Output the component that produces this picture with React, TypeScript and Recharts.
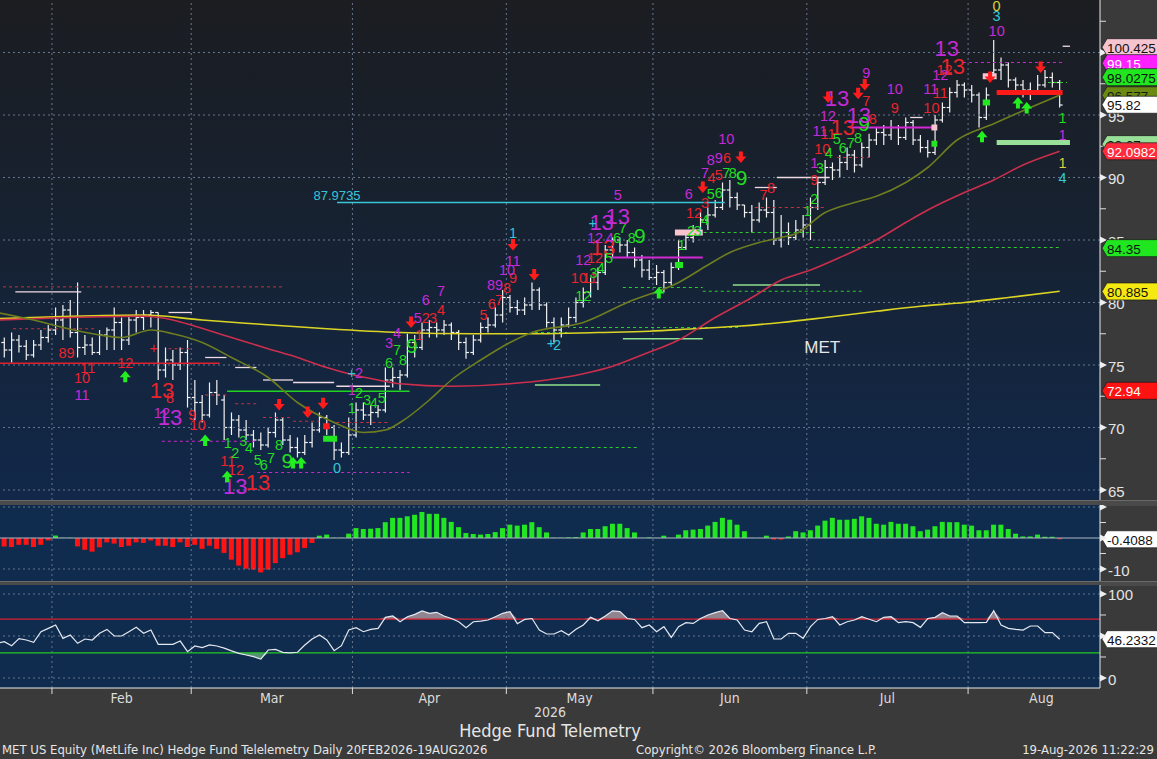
import React from 'react';
import {
  ComposedChart, Bar, Line, Area, Scatter, XAxis, YAxis, ReferenceLine, Cell,
} from 'recharts';

const SANS = '"Liberation Sans", Arial, sans-serif';
const NARROW = '"Liberation Sans Narrow", "DejaVu Sans Condensed", "Roboto Condensed", "Liberation Sans", sans-serif';

// trading-day index: 0 = 21 Jan 2026 ... 145 = 19 Aug 2026
const X_DOMAIN: [number, number] = [0.41, 150.5];
const monthEdges = [7.5, 26.5, 48.5, 69.5, 89.5, 110.5, 132.5];
const monthMid = [17, 37.5, 59, 79.5, 100, 121.5, 142.5];
const monthNames = ['Feb', 'Mar', 'Apr', 'May', 'Jun', 'Jul', 'Aug'];

const opens = [
  76.4, 76.8, 76.2, 77.0, 76.5, 75.8, 76.6, 77.2, 77.8, 78.6,
  79.4, 77.6, 76.4, 76.6, 76.0, 77.4, 77.8, 78.4, 77.0, 78.6,
  78.8, 79.0, 79.2, 74.6, 75.4, 75.0, 76.0, 72.4, 72.0, 71.0,
  72.8, 72.2, 70.0, 70.6, 69.8, 69.4, 69.0, 68.6, 69.6, 70.6,
  69.0, 68.4, 68.0, 68.8, 69.8, 70.8, 70.0, 68.2, 68.0, 69.4,
  71.4, 71.0, 71.2, 71.4, 73.8, 74.0, 74.2, 76.8, 76.4, 77.8,
  78.0, 77.8, 78.2, 77.6, 76.8, 76.0, 77.0, 78.0, 78.2, 79.0,
  80.4, 79.6, 79.4, 79.8, 81.0, 79.8, 78.4, 77.8, 78.2, 78.8,
  80.0, 80.8, 81.6, 82.4, 84.2, 85.0, 84.6, 84.0, 83.4, 82.6,
  82.0, 82.4, 81.6, 82.8, 84.4, 85.2, 85.8, 86.6, 87.0, 87.6,
  89.0, 88.4, 87.8, 87.2, 86.6, 87.4, 87.2, 85.0, 85.6, 85.2,
  85.8, 86.2, 87.6, 89.6, 90.8, 90.6, 91.2, 91.8, 91.0, 92.4,
  93.0, 93.6, 93.4, 94.0, 93.2, 94.4, 93.0, 92.4, 92.0, 94.6,
  95.6, 96.8, 97.4, 97.0, 96.6, 94.8, 98.4, 98.6, 99.0, 97.8,
  97.4, 97.0, 96.8, 97.4, 98.0, 97.6,
];
const highs = [
  77.3, 77.2, 77.6, 77.4, 77.0, 77.0, 77.8, 78.2, 79.6, 79.8,
  80.2, 81.6, 77.4, 77.2, 77.8, 78.0, 79.6, 78.8, 79.0, 79.4,
  79.4, 79.4, 79.2, 76.4, 76.2, 76.4, 77.0, 73.8, 72.6, 73.6,
  73.8, 72.6, 71.2, 71.0, 70.6, 69.8, 69.6, 70.0, 71.2, 70.8,
  69.4, 69.2, 69.4, 70.4, 71.2, 71.0, 70.2, 68.8, 70.8, 72.0,
  72.0, 71.8, 71.8, 74.8, 74.8, 74.6, 77.5, 77.4, 78.4, 78.6,
  78.4, 78.6, 78.4, 77.8, 77.2, 77.4, 78.4, 78.8, 79.6, 81.0,
  80.6, 80.2, 80.4, 81.6, 81.2, 80.0, 78.8, 78.8, 79.6, 80.4,
  81.2, 82.0, 82.8, 84.6, 85.2, 85.2, 85.0, 84.4, 83.8, 83.4,
  83.0, 82.6, 83.2, 85.0, 85.6, 86.2, 87.2, 87.6, 88.2, 89.6,
  89.8, 88.8, 87.8, 87.8, 88.0, 88.4, 88.2, 87.0, 86.4, 86.6,
  87.0, 88.4, 90.0, 91.4, 91.2, 91.8, 92.4, 92.2, 92.8, 93.5,
  94.0, 94.2, 94.6, 94.2, 94.8, 94.6, 93.4, 93.0, 95.0, 96.0,
  97.2, 97.8, 97.6, 97.4, 96.8, 97.2, 101.0, 99.6, 99.2, 98.0,
  97.8, 97.6, 98.2, 98.6, 98.4, 97.8,
];
const lows = [
  75.8, 75.6, 75.2, 76.0, 75.4, 75.6, 76.2, 76.8, 77.4, 77.0,
  77.2, 75.6, 75.8, 75.8, 75.8, 76.2, 76.2, 76.2, 76.6, 77.6,
  77.8, 78.0, 73.8, 74.0, 73.8, 74.6, 71.6, 70.6, 70.4, 70.8,
  71.8, 69.0, 69.4, 69.2, 69.0, 68.4, 68.2, 68.4, 69.2, 68.6,
  68.0, 67.6, 67.8, 68.4, 69.6, 69.4, 67.4, 67.6, 67.8, 69.2,
  70.6, 70.2, 70.8, 71.2, 73.2, 73.0, 74.0, 75.6, 76.2, 77.2,
  77.2, 77.4, 77.0, 76.2, 75.5, 75.8, 76.8, 77.6, 78.0, 78.4,
  79.2, 79.0, 79.0, 79.4, 79.4, 78.0, 76.8, 77.2, 78.0, 78.4,
  79.6, 80.4, 81.0, 82.2, 83.6, 84.0, 83.6, 82.8, 82.0, 81.8,
  81.4, 80.8, 81.4, 82.6, 84.2, 84.8, 85.6, 85.8, 86.8, 87.4,
  87.6, 87.4, 86.8, 85.6, 86.4, 86.8, 84.6, 84.4, 84.6, 85.0,
  85.2, 85.0, 87.4, 89.4, 89.8, 90.0, 90.6, 90.4, 90.8, 91.6,
  92.6, 92.6, 93.0, 92.6, 93.0, 92.6, 92.0, 91.6, 91.8, 94.4,
  95.2, 96.4, 96.4, 96.0, 94.0, 94.6, 98.0, 97.8, 97.2, 96.8,
  96.4, 96.2, 96.6, 97.2, 97.2, 95.6,
];
const closes = [
  76.8, 76.2, 77.0, 76.5, 75.8, 76.6, 77.2, 77.8, 78.6, 79.4,
  77.6, 76.4, 76.6, 76.0, 77.4, 77.8, 78.4, 77.0, 78.6, 78.8,
  79.0, 79.2, 74.6, 75.4, 75.0, 76.0, 72.4, 72.0, 71.0, 72.8,
  72.6, 70.0, 70.6, 69.8, 69.4, 69.0, 68.6, 69.6, 70.6, 69.0,
  68.4, 68.0, 68.8, 69.8, 70.8, 70.0, 68.2, 68.0, 69.4, 71.4,
  71.0, 71.2, 71.4, 73.8, 74.0, 74.2, 76.8, 76.4, 77.8, 78.0,
  77.8, 78.2, 77.6, 76.8, 76.0, 77.0, 78.0, 78.2, 79.0, 80.4,
  79.6, 79.4, 79.8, 81.0, 79.8, 78.4, 77.8, 78.2, 78.8, 80.0,
  80.8, 81.6, 82.4, 84.2, 85.0, 84.6, 84.0, 83.4, 82.6, 82.0,
  82.4, 81.6, 82.8, 84.4, 85.2, 85.8, 86.6, 87.0, 87.6, 89.0,
  88.4, 87.8, 87.2, 86.6, 87.4, 87.2, 85.0, 85.6, 85.2, 85.8,
  86.2, 87.6, 89.6, 90.8, 90.6, 91.2, 91.8, 91.0, 92.4, 93.0,
  93.6, 93.4, 94.0, 93.2, 94.4, 93.0, 92.4, 92.0, 94.6, 95.6,
  96.8, 97.4, 97.0, 96.6, 94.8, 96.6, 98.6, 99.0, 97.8, 97.4,
  97.0, 96.8, 97.4, 98.0, 97.6, 95.8,
];

// moving averages, read at sample points [index, value]
const ma20 = [[0, 79.2], [5, 78.6], [9, 78.0], [14, 77.4], [17, 77.2], [21, 77.8], [24, 77.5], [28, 76.8], [32, 75.6], [37, 74.0], [41, 72.0], [46, 70.4], [50, 69.6], [53, 69.8], [55, 70.4], [59, 72.2], [62, 73.8], [66, 75.4], [70, 76.8], [73, 77.6], [80, 78.4], [86, 80.0], [93, 81.6], [97, 83.0], [100, 84.0], [104, 84.8], [107, 85.2], [109, 85.5], [113, 87.2], [117, 88.0], [120, 88.5], [124, 89.6], [127, 90.8], [131, 93.0], [136, 94.3], [141, 95.6], [145, 96.6]];
const ma50 = [[0, 78.6], [10, 78.8], [20, 78.9], [24, 78.6], [27, 78.1], [32, 77.2], [37, 76.3], [41, 75.6], [45, 74.8], [48, 74.3], [52, 73.8], [55, 73.5], [62, 73.3], [70, 73.5], [75, 73.8], [80, 74.3], [84, 74.9], [88, 75.8], [93, 77.0], [98, 78.8], [103, 80.4], [107, 81.8], [111, 82.6], [115, 83.6], [120, 85.0], [124, 86.4], [127, 87.4], [132, 88.8], [136, 89.8], [140, 91.0], [145, 92.1]];
const ma200 = [[0, 78.7], [10, 78.9], [20, 79.0], [28, 78.6], [35, 78.3], [45, 77.9], [55, 77.6], [65, 77.5], [74, 77.5], [82, 77.6], [89, 77.7], [95, 77.9], [101, 78.1], [107, 78.4], [113, 78.8], [120, 79.3], [126, 79.7], [132, 80.0], [138, 80.4], [145, 80.9]];

// histogram pane
const hist = [
  -4.1, -2.7, -2.9, -2.2, -2.2, -2.9, -2.2, -0.8, 0.8, 0.1,
  0.1, -2.7, -3.8, -4.4, -3.0, -1.4, -1.8, -2.9, -2.5, -1.4,
  -1.6, -0.8, -2.5, -2.5, -2.9, -1.4, -2.9, -2.2, -3.5, -2.5,
  -3.5, -4.8, -7.0, -8.9, -9.9, -10.2, -11.1, -10.2, -8.1, -6.5,
  -5.4, -4.6, -3.2, -1.6, 0.75, 1.1, 0.1, 0.1, 1.4, 3.2,
  2.9, 3.0, 3.2, 5.1, 6.5, 6.5, 7.0, 7.5, 8.4, 7.8,
  7.8, 6.5, 5.2, 3.5, 1.6, 1.3, 1.1, 1.3, 1.9, 3.2,
  4.3, 4.0, 4.3, 5.1, 3.5, 1.8, 0.1, 0.1, 0.2, 0.3,
  1.8, 2.9, 2.9, 3.8, 4.6, 4.6, 3.2, 1.8, 0.05, 0.2,
  0.05, 0.75, 0.05, 1.1, 2.5, 2.7, 2.9, 4.0, 5.2, 6.5,
  5.9, 4.3, 2.2, 0.05, 0.05, 0.75, -0.5, -0.5, 0.5, 2.2,
  1.8, 2.5, 4.0, 5.6, 6.5, 5.9, 5.9, 6.2, 7.0, 6.5,
  4.6, 4.3, 5.2, 4.6, 4.6, 3.8, 2.2, 2.7, 3.8, 5.2,
  5.1, 5.1, 4.3, 4.0, 2.5, 2.5, 4.3, 4.3, 2.9, 1.4,
  0.5, 0.5, 1.1, 0.4, 0.4, -0.4,
];

// oscillator pane
const rsi = [
  41.3, 43.2, 38.5, 46.8, 45.2, 42.5, 55.1, 59.1, 63.1, 47.2,
  51.2, 41.3, 46.4, 45.2, 53.2, 57.9, 50.0, 50.0, 55.1, 60.3,
  53.2, 57.1, 40.1, 40.1, 40.1, 44.0, 31.3, 38.1, 36.1, 39.3,
  38.1, 35.5, 32.3, 29.4, 27.4, 25.4, 22.6, 33.3, 34.1, 30.6,
  29.8, 30.6, 39.3, 46.4, 51.2, 45.2, 32.5, 38.5, 57.1, 59.9,
  55.1, 57.9, 59.1, 72.2, 73.8, 67.0, 73.0, 75.8, 79.8, 77.0,
  78.2, 73.8, 70.8, 67.0, 59.9, 67.0, 67.8, 69.0, 73.0, 77.0,
  79.0, 64.7, 69.7, 70.8, 57.1, 52.4, 52.4, 56.3, 51.2, 57.9,
  63.1, 72.2, 68.0, 73.8, 80.0, 79.0, 70.8, 69.7, 59.9, 63.1,
  55.1, 61.1, 48.4, 61.1, 65.9, 65.0, 70.8, 75.0, 77.8, 80.0,
  70.8, 69.0, 57.1, 55.1, 65.0, 67.0, 46.4, 46.4, 53.2, 53.2,
  47.2, 61.1, 69.7, 70.8, 73.0, 63.1, 67.0, 69.0, 73.0, 70.0,
  67.0, 72.2, 73.0, 65.9, 67.0, 65.9, 60.3, 70.8, 72.2, 77.8,
  73.8, 73.8, 65.9, 65.9, 65.9, 66.3, 80.0, 63.1, 59.1, 57.9,
  57.1, 61.9, 61.9, 54.0, 54.0, 46.2,
];

// sequential counts [index, price, text]
const redCounts = [[9.5, 76.0, '89'], [12.4, 74.8, '11'], [11.6, 74.0, '10'], [17.5, 75.2, '12'], [23.6, 72.4, '8'], [26.6, 71.0, '9'], [27.4, 70.2, '10'], [31.5, 67.3, '11'], [32.6, 66.6, '12'], [21.4, 76.4, '+'], [57.6, 77.4, '1'], [58.5, 78.8, '2'], [59.5, 78.8, '3'], [60.6, 79.4, '4'], [66.4, 79.0, '5'], [67.5, 79.9, '6'], [68.5, 80.2, '7'], [69.6, 81.2, '8'], [70.4, 82.0, '9'], [79.4, 82.0, '10'], [80.9, 82.0, '11'], [81.6, 83.6, '12'], [95.1, 87.2, '12'], [96.6, 88.0, '3'], [97.5, 90.0, '4'], [98.5, 90.2, '5'], [99.6, 91.6, '6'], [104.6, 88.6, '7'], [105.6, 89.2, '8'], [111.5, 89.8, '9'], [112.6, 92.3, '10'], [113.4, 93.5, '11'], [119.5, 94.7, '8'], [118.6, 96.1, '7'], [122.5, 95.6, '9'], [127.5, 95.6, '10'], [128.7, 96.8, '11'], [129.3, 98.6, '12']];
const redThirteens = [[22.5, 73.0, '13'], [35.6, 65.6, '13'], [82.7, 84.4, '13'], [115.4, 94.0, '13'], [130.4, 98.9, '13']];
const greenCounts = [[31.5, 68.8, '1'], [32.5, 68.0, '2'], [33.6, 68.9, '3'], [34.4, 68.4, '4'], [35.6, 67.4, '5'], [36.4, 67.0, '6'], [37.4, 67.6, '7'], [38.5, 68.6, '8'], [48.4, 71.6, '1'], [49.4, 72.8, '2'], [50.5, 72.2, '3'], [51.4, 72.0, '4'], [52.5, 72.4, '5'], [53.5, 75.2, '6'], [54.6, 76.2, '7'], [55.4, 75.4, '8'], [80.0, 80.5, '12'], [81.4, 82.4, '3'], [82.4, 82.8, '4'], [83.5, 83.6, '5'], [84.6, 85.2, '6'], [85.4, 86.0, '7'], [86.6, 85.2, '8'], [93.4, 84.6, '1'], [94.7, 85.7, '2'], [95.6, 85.7, '3'], [96.6, 86.6, '4'], [97.4, 88.7, '5'], [98.5, 88.8, '6'], [99.5, 90.4, '7'], [100.4, 90.4, '8'], [110.6, 87.3, '1'], [111.5, 88.3, '2'], [112.3, 90.8, '3'], [113.5, 92.0, '4'], [114.6, 93.1, '5'], [115.4, 92.4, '6'], [116.5, 92.8, '7'], [117.5, 93.2, '8'], [145.4, 94.8, '1']];
const greenNines = [[39.6, 67.4, '9'], [56.6, 76.6, '9'], [87.7, 85.4, '9'], [101.6, 90.0, '9'], [118.3, 94.3, '9']];
const purpleCounts = [[11.6, 72.6, '11'], [22.5, 71.2, '12'], [48.4, 73.0, '1'], [49.4, 74.4, '2'], [53.5, 76.8, '3'], [54.6, 77.6, '4'], [57.4, 78.8, '5'], [58.5, 80.2, '6'], [60.6, 80.9, '7'], [67.4, 81.4, '8'], [68.5, 81.4, '9'], [69.6, 82.6, '10'], [70.4, 83.3, '11'], [80.0, 83.4, '12'], [81.6, 85.2, '12'], [83.6, 85.2, '4'], [84.7, 88.6, '5'], [94.4, 88.7, '6'], [96.6, 90.4, '7'], [97.4, 91.4, '8'], [98.5, 91.6, '9'], [99.5, 93.1, '10'], [111.5, 91.2, '1'], [112.3, 93.7, '11'], [113.4, 94.9, '12'], [118.6, 98.4, '9'], [122.5, 97.1, '10'], [127.4, 97.1, '11'], [128.7, 98.2, '12'], [136.4, 101.7, '10'], [145.4, 93.4, '1']];
const purpleThirteens = [[23.6, 70.8, '13'], [32.5, 65.3, '13'], [82.5, 86.4, '13'], [84.7, 86.9, '13'], [114.6, 96.3, '13'], [117.6, 95.0, '13'], [129.6, 100.3, '13']];
const cyanCounts = [[46.4, 66.8, '0'], [48.4, 74.4, '+'], [70.4, 85.6, '1'], [75.6, 76.8, '+'], [76.4, 76.6, '2'], [81.3, 86.4, '+'], [136.4, 102.9, '3'], [145.4, 90.0, '4']];
const yellowCounts = [[136.4, 103.7, '0'], [145.4, 91.2, '1']];
const levelText = [[46.4, 88.6, '87.9735']];
const tickerText = [[112.6, 76.4, 'MET']];

const sellArrows = [[38.5, 71.8], [42.4, 71.2], [44.5, 71.9], [56.5, 78.4], [70.4, 84.6], [73.3, 82.2], [96.3, 89.2], [101.5, 91.6], [113.4, 96.4], [117.5, 96.7], [118.4, 97.4], [135.5, 98.0], [142.4, 98.8]];
const buyArrows = [[17.5, 74.1], [28.4, 69.0], [31.4, 66.1], [40.4, 67.2], [41.5, 67.2], [90.3, 80.8], [134.4, 93.3], [139.3, 96.0], [140.5, 95.6]];

// level lines [fromIndex, toIndex, price]
const redDotted = [[0, 39.3, 81.25], [2.2, 13.6, 77.9], [23.4, 26.6, 76.3], [28.4, 31.3, 72.6], [32.5, 35.4, 71.9], [36.3, 40.4, 70.8], [40.4, 44, 70.5], [46.3, 53.4, 70.4], [103.4, 113, 87.6], [114.6, 119.5, 91.6]];
const redSolid = [[0, 30.4, 75.15]];
const paleSolid = [[2.5, 11.5, 80.85], [23.4, 26.6, 79.2], [28.4, 31.3, 75.6], [32.5, 35.4, 74.8], [36.3, 40.4, 73.8], [40.4, 46, 73.6], [46.3, 53.6, 73.3], [103.4, 106.4, 89.2], [106.4, 113.6, 90.0], [124.6, 126.3, 94.8], [145.4, 146.4, 100.5]];
const greenSolid = [[31.4, 56.3, 72.9]];
const purpleDotted = [[22.5, 35.4, 68.9], [35.5, 56.3, 66.4], [131.8, 145.5, 99.2]];
const greenDotted = [[48.4, 87.3, 68.4], [85.4, 96.3, 81.2], [96.3, 118, 80.9], [78.6, 101.4, 78.0], [73.4, 77.8, 77.6], [95.6, 111.9, 85.6], [110.9, 145, 84.4], [143.4, 146, 97.6]];
const lightGreenSolid = [[73.4, 82.3, 73.4], [85.4, 96.3, 77.1], [100.4, 112.3, 81.4]];
const cyanSolid = [[46.4, 99.3, 88.0]];
const purpleSolid = [[83.6, 96.3, 83.6], [116.4, 127.7, 94.0]];
const redThick = [[136.4, 145.4, 96.8]];
const lightGreenThick = [[136.4, 146.4, 92.8]];
const pinkBlocks = [[92.5, 96.3, 85.6], [134.5, 136.4, 98.1], [127.5, 128.3, 94.0]];
const greenBlocks = [[127.5, 128.3, 92.7], [134.5, 135.5, 96.0], [92.5, 93.6, 83.0], [44.5, 46.4, 69.1]];
const redBlocks = [[44.5, 45.4, 70.1]];

// right-axis value tags
const priceTags = [100.425, 99.15, 98.0275, 96.577, 95.82, 92.67, 92.0982, 84.35, 80.885, 72.94];
const priceTagColors = [
  ['#f6c4cf', '#111'], ['#ff20ff', '#fff'], ['#1fe61f', '#111'], ['#6a8a12', '#1a1a1a'], ['#ffffff', '#111'],
  ['#98e098', '#111'], ['#ff2b3d', '#fff'], ['#1fe61f', '#111'], ['#f4ea12', '#111'], ['#ff1212', '#fff'],
];
const histTag = -0.4088;
const rsiTag = 46.2332;

const priceTicks = [65, 67.5, 70, 72.5, 75, 77.5, 80, 82.5, 85, 87.5, 90, 92.5, 95, 97.5, 100, 102.5];
const priceGrid = [65, 70, 75, 80, 85, 90, 95, 100];

const bars = closes.map((c, i) => ({ i, o: opens[i], h: highs[i], l: lows[i], c, range: [lows[i], highs[i]] }));
const histRows = hist.map((v, i) => ({ i, v }));
const rsiRows = rsi.map((v, i) => ({ i, v, ob: Math.max(v, 70), os: Math.min(v, 30) }));
const toLine = (pts: number[][]) => pts.map(([i, v]) => ({ i, v }));
const toMarks = (rows: any[][]) => rows.map(([i, p, t]) => ({ i, p, t }));

const GRID = '#66768e';

const OhlcShape = (props: any) => {
  const { x, y, width, height, payload } = props;
  if (height == null) return null;
  const cx = x + width / 2;
  const span = payload.h - payload.l || 1;
  const yo = y + ((payload.h - payload.o) / span) * height;
  const yc = y + ((payload.h - payload.c) / span) * height;
  return (
    <g stroke="#f2f2f2" strokeWidth={1.2}>
      <line x1={cx} x2={cx} y1={y} y2={y + height} />
      <line x1={cx - 3} x2={cx} y1={yo} y2={yo} />
      <line x1={cx} x2={cx + 3} y1={yc} y2={yc} />
    </g>
  );
};

const textShape = (fill: string, size: number, anchor = 'middle') => (props: any) => (
  <text x={props.cx} y={props.cy} fill={fill} fontSize={size} fontFamily={SANS}
    textAnchor={anchor} dominantBaseline="central">{props.payload.t}</text>
);

const DownArrow = (props: any) => {
  const { cx, cy } = props;
  return <path d={`M${cx - 2},${cy - 6}h4v5h3.5l-5.5,6.5l-5.5,-6.5h3.5z`} fill="#ff1c1c" />;
};
const UpArrow = (props: any) => {
  const { cx, cy } = props;
  return <path d={`M${cx - 2},${cy + 6}h4v-5h3.5l-5.5,-6.5l-5.5,6.5h3.5z`} fill="#22ee22" />;
};

const Tag = ({ viewBox, text, bg, fg }: any) => {
  if (!viewBox) return null;
  const x = viewBox.x + viewBox.width + 2;
  const y = viewBox.y;
  return (
    <g>
      <path d={`M${x},${y} L${x + 5},${y - 8.5} H${x + 60} V${y + 8.5} H${x + 5} Z`} fill={bg} stroke="#1a1a1a" strokeWidth={0.7} />
      <text x={x + 5} y={y + 1} fontSize={13.5} fill={fg} fontFamily={SANS} dominantBaseline="central">{text}</text>
    </g>
  );
};

const makeTick = (majors: number[], labelled: number[]) => (props: any) => {
  const { x, y, payload } = props;
  const ax = x - 8;
  const v = payload.value;
  if (majors.includes(v)) {
    return (
      <g>
        <path d={`M${ax},${y - 3.5} L${ax + 7},${y} L${ax},${y + 3.5} Z`} fill="#eeeeee" />
        {labelled.includes(v) && (
          <text x={ax + 8} y={y + 1} fill="#e4e4e4" fontSize={15} fontFamily={SANS} dominantBaseline="central">{v}</text>
        )}
      </g>
    );
  }
  return <line x1={ax} x2={ax + 6} y1={y} y2={y} stroke="#dddddd" />;
};

const segments = (rows: number[][], stroke: string, width: number, dash?: string) =>
  rows.map(([a, b, p], k) => (
    <ReferenceLine key={`${stroke}-${width}-${k}`} segment={[{ x: a, y: p }, { x: b, y: p }]}
      stroke={stroke} strokeWidth={width} strokeDasharray={dash} ifOverflow="hidden" />
  ));

const vGrid = () => monthEdges.map((e) => (
  <ReferenceLine key={`vg-${e}`} x={e} stroke={GRID} strokeDasharray="2 3" ifOverflow="hidden" />
));

const MonthTick = (props: any) => {
  const { x, y, payload } = props;
  const k = monthMid.indexOf(payload.value);
  if (k >= 0) {
    return <text x={x} y={y + 10} fill="#dcdcdc" fontSize={14} fontFamily={NARROW} textAnchor="middle" dominantBaseline="central">{monthNames[k]}</text>;
  }
  return <line x1={x} x2={x} y1={y} y2={y + 6} stroke="#dddddd" />;
};

const W = 1157;
const AXIS_W = 57;
const SMALL = 14.5;
const BIG = 22;

export default function App() {
  const abs = (top: number, height: number, extra: any = {}) => ({ position: 'absolute' as const, left: 0, top, height, ...extra });
  return (
    <div style={{ position: 'absolute', left: 0, top: 0, width: W, height: 759, background: '#3a3a3a', overflow: 'hidden', fontFamily: SANS }}>
      <div style={abs(0, 500, { width: 1100, background: 'linear-gradient(180deg, #1b1d21 0%, #17212f 40%, #11284a 100%)' })} />
      <div style={abs(500, 5, { width: W, background: '#4a4a4a', borderTop: '1px solid #6a6a6a' })} />
      <div style={abs(505, 76, { width: 1100, background: '#0f2c4e' })} />
      <div style={abs(581, 4, { width: W, background: '#4a4a4a', borderTop: '1px solid #6a6a6a' })} />
      <div style={abs(585, 103, { width: 1100, background: '#0f2c4e' })} />

      {/* price pane */}
      <div style={abs(0, 500)}>
        <ComposedChart width={W} height={500} data={bars} margin={{ top: 0, right: 0, bottom: 0, left: 0 }}>
          <XAxis dataKey="i" type="number" domain={X_DOMAIN} allowDataOverflow hide />
          <YAxis orientation="right" width={AXIS_W} type="number" domain={[64.2, 104.2]} allowDataOverflow
            ticks={priceTicks} interval={0} tickSize={6} tickMargin={2} tickLine={false}
            axisLine={{ stroke: '#e8e8e8' }} tick={makeTick(priceGrid, priceGrid)} />
          {priceGrid.map((g) => <ReferenceLine key={`hg-${g}`} y={g} stroke={GRID} strokeDasharray="2 3" />)}
          {vGrid()}
          {segments(redDotted, '#c8303c', 1, '3 3')}
          {segments(redSolid, '#e0202e', 1.5)}
          {segments(paleSolid, '#f0dbe4', 1.3)}
          {segments(greenSolid, '#22d422', 1.5)}
          {segments(purpleDotted, '#c828c8', 1, '3 3')}
          {segments(greenDotted, '#2ccc2c', 1, '3 3')}
          {segments(lightGreenSolid, '#8fe08f', 1.3)}
          {segments(cyanSolid, '#38c8d8', 1.3)}
          {segments(purpleSolid, '#d428d4', 1.8)}
          {segments(redThick, '#ff1a1a', 5)}
          {segments(lightGreenThick, '#98e098', 5)}
          {segments(pinkBlocks, '#f7c4d0', 6)}
          {segments(greenBlocks, '#22e622', 6)}
          {segments(redBlocks, '#ff1a1a', 6)}
          <Line data={toLine(ma200)} dataKey="v" type="monotone" stroke="#dcd424" strokeWidth={1.6} dot={false} isAnimationActive={false} />
          <Line data={toLine(ma50)} dataKey="v" type="monotone" stroke="#cc2e4c" strokeWidth={1.6} dot={false} isAnimationActive={false} />
          <Line data={toLine(ma20)} dataKey="v" type="monotone" stroke="#6d7d20" strokeWidth={1.6} dot={false} isAnimationActive={false} />
          <Bar dataKey="range" barSize={6} shape={OhlcShape} isAnimationActive={false} />
          <Scatter data={toMarks(redCounts)} dataKey="p" shape={textShape('#e8242c', SMALL)} isAnimationActive={false} />
          <Scatter data={toMarks(redThirteens)} dataKey="p" shape={textShape('#e8242c', BIG)} isAnimationActive={false} />
          <Scatter data={toMarks(greenCounts)} dataKey="p" shape={textShape('#22dd22', SMALL)} isAnimationActive={false} />
          <Scatter data={toMarks(greenNines)} dataKey="p" shape={textShape('#22dd22', 21)} isAnimationActive={false} />
          <Scatter data={toMarks(purpleCounts)} dataKey="p" shape={textShape('#c42ad6', SMALL)} isAnimationActive={false} />
          <Scatter data={toMarks(purpleThirteens)} dataKey="p" shape={textShape('#c42ad6', BIG)} isAnimationActive={false} />
          <Scatter data={toMarks(cyanCounts)} dataKey="p" shape={textShape('#34c6d6', SMALL)} isAnimationActive={false} />
          <Scatter data={toMarks(yellowCounts)} dataKey="p" shape={textShape('#d8d040', SMALL)} isAnimationActive={false} />
          <Scatter data={toMarks(levelText)} dataKey="p" shape={textShape('#34c6d6', 13)} isAnimationActive={false} />
          <Scatter data={toMarks(tickerText)} dataKey="p" shape={textShape('#e6e6e6', 17)} isAnimationActive={false} />
          <Scatter data={toMarks(sellArrows)} dataKey="p" shape={DownArrow} isAnimationActive={false} />
          <Scatter data={toMarks(buyArrows)} dataKey="p" shape={UpArrow} isAnimationActive={false} />
        </ComposedChart>
      </div>
      <div style={abs(0, 500)}>
        <ComposedChart width={W} height={500} data={bars} margin={{ top: 0, right: AXIS_W, bottom: 0, left: 0 }}>
          <XAxis dataKey="i" type="number" domain={X_DOMAIN} allowDataOverflow hide />
          <YAxis type="number" domain={[64.2, 104.2]} allowDataOverflow hide />
          {priceTags.map((v, k) => (
            <ReferenceLine key={`tag-${v}`} y={v} stroke="none"
              label={(p: any) => <Tag viewBox={p.viewBox} text={String(v)} bg={priceTagColors[k][0]} fg={priceTagColors[k][1]} />} />
          ))}
        </ComposedChart>
      </div>

      {/* histogram pane */}
      <div style={abs(505, 76)}>
        <ComposedChart width={W} height={76} data={histRows} margin={{ top: 0, right: 0, bottom: 0, left: 0 }}>
          <XAxis dataKey="i" type="number" domain={X_DOMAIN} allowDataOverflow hide />
          <YAxis orientation="right" width={AXIS_W} type="number" domain={[-13.87, 10.65]} allowDataOverflow
            ticks={[10, 5, 0, -5, -10]} interval={0} tickSize={6} tickMargin={2} tickLine={false}
            axisLine={{ stroke: '#e8e8e8' }} tick={makeTick([10, 0, -10], [-10])} />
          <ReferenceLine y={10} stroke={GRID} strokeDasharray="2 3" />
          <ReferenceLine y={-10} stroke={GRID} strokeDasharray="2 3" />
          {vGrid()}
          <ReferenceLine y={0} stroke="#aeb6c4" strokeWidth={1} />
          <Bar dataKey="v" barSize={5} isAnimationActive={false}>
            {histRows.map((r) => <Cell key={r.i} fill={r.v >= 0 ? '#22e622' : '#ff1414'} />)}
          </Bar>
          <ReferenceLine y={histTag} stroke="none"
            label={(p: any) => <Tag viewBox={p.viewBox} text={String(histTag)} bg="#ffffff" fg="#111" />} />
        </ComposedChart>
      </div>

      {/* oscillator pane + time axis */}
      <div style={abs(585, 133)}>
        <ComposedChart width={W} height={133} data={rsiRows} margin={{ top: 0, right: 0, bottom: 0, left: 0 }}>
          <XAxis dataKey="i" type="number" domain={X_DOMAIN} allowDataOverflow height={30}
            ticks={[...monthEdges, ...monthMid].sort((a, b) => a - b)} interval={0}
            tickSize={0} tickMargin={0} tickLine={false} axisLine={{ stroke: '#e8e8e8' }} tick={MonthTick} />
          <YAxis orientation="right" width={AXIS_W} type="number" domain={[-11.9, 110.7]} allowDataOverflow
            ticks={[100, 75, 50, 25, 0]} interval={0} tickSize={6} tickMargin={2} tickLine={false}
            axisLine={{ stroke: '#e8e8e8' }} tick={makeTick([100, 50, 0], [100, 0])} />
          {[100, 50, 0].map((g) => <ReferenceLine key={`rg-${g}`} y={g} stroke={GRID} strokeDasharray="2 3" />)}
          {vGrid()}
          <Area dataKey="ob" baseValue={70} type="linear" stroke="none" fill="#a8949e" fillOpacity={0.85} isAnimationActive={false} />
          <Area dataKey="os" baseValue={30} type="linear" stroke="none" fill="#5e9c7a" fillOpacity={0.9} isAnimationActive={false} />
          <ReferenceLine y={70} stroke="#d8202c" strokeWidth={1.3} />
          <ReferenceLine y={30} stroke="#22c822" strokeWidth={1.3} />
          <Line dataKey="v" type="linear" stroke="#e4e8f0" strokeWidth={1.2} dot={false} isAnimationActive={false} />
          <ReferenceLine y={rsiTag} stroke="none"
            label={(p: any) => <Tag viewBox={p.viewBox} text={String(rsiTag)} bg="#ffffff" fg="#111" />} />
        </ComposedChart>
      </div>

      <div style={{ position: 'absolute', left: 0, width: 1100, top: 704, textAlign: 'center', color: '#dcdcdc', fontSize: 14, fontFamily: NARROW }}>2026</div>
      <div style={{ position: 'absolute', left: 0, width: 1100, top: 720, textAlign: 'center', color: '#e6e6e6', fontSize: 18, fontFamily: NARROW }}>Hedge Fund Telemetry</div>
      <div style={{ position: 'absolute', left: 2, top: 742, color: '#e6e6e6', fontSize: 13, fontFamily: NARROW, whiteSpace: 'nowrap' }}>MET US Equity (MetLife Inc) Hedge Fund Telelemetry Daily 20FEB2026-19AUG2026</div>
      <div style={{ position: 'absolute', left: 636, top: 742, color: '#e6e6e6', fontSize: 13, fontFamily: NARROW, whiteSpace: 'nowrap' }}>Copyright© 2026 Bloomberg Finance L.P.</div>
      <div style={{ position: 'absolute', right: 3, top: 742, color: '#e6e6e6', fontSize: 13, fontFamily: NARROW, whiteSpace: 'nowrap' }}>19-Aug-2026 11:22:29</div>
    </div>
  );
}
